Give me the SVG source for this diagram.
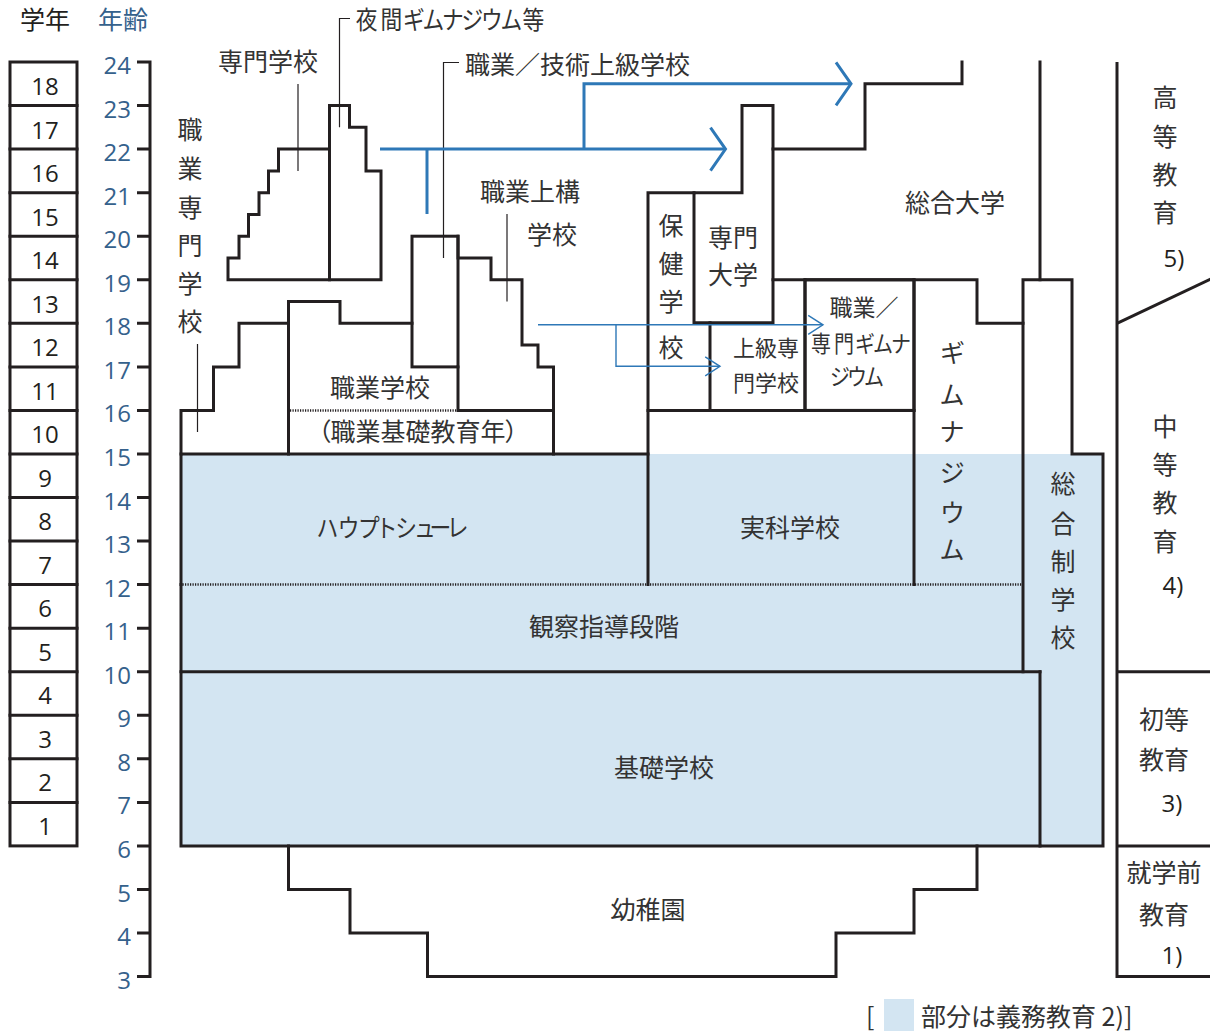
<svg xmlns="http://www.w3.org/2000/svg" width="1210" height="1031" viewBox="0 0 1210 1031">
<defs>
<style>
.ln{fill:none;stroke:#231f20;stroke-width:3;stroke-linejoin:miter;stroke-linecap:square}
.ld{fill:none;stroke:#231f20;stroke-width:1.2}
.dot{fill:none;stroke:#231f20;stroke-width:2.5;stroke-dasharray:1.2 1.3}
.jp{font-family:"Noto Sans CJK JP",sans-serif;font-size:25px;fill:#333;font-feature-settings:"palt";text-anchor:middle}
.js{font-family:"Noto Sans CJK JP",sans-serif;font-size:22px;fill:#333;font-feature-settings:"palt";text-anchor:middle}
.kp{font-feature-settings:normal}
.st{text-anchor:start}
.num{font-family:"Open Sans","Noto Sans CJK JP",sans-serif;font-size:24px;fill:#231f20;text-anchor:middle}
.age{font-family:"Open Sans",sans-serif;font-size:24px;fill:#35618c;text-anchor:end}
.ab{fill:none;stroke:#2e78b7;stroke-width:3}
.at{fill:none;stroke:#2e78b7;stroke-width:1.4}
.fill{fill:#d3e5f2}
</style>
<marker id="chevB" markerUnits="userSpaceOnUse" viewBox="0 0 18 46" markerWidth="18" markerHeight="46" refX="16.5" refY="23" orient="auto" overflow="visible">
<path d="M1.5,1.5L16.5,23L1.5,44.5" fill="none" stroke="#2e78b7" stroke-width="3"/>
</marker>
<marker id="chevT" markerUnits="userSpaceOnUse" viewBox="0 0 17 22" markerWidth="17" markerHeight="22" refX="15.5" refY="11" orient="auto" overflow="visible">
<path d="M0.7,1.5L15.5,11L0.7,20.5" fill="none" stroke="#2e78b7" stroke-width="1.4"/>
</marker>
</defs>
<rect width="1210" height="1031" fill="#fff"/>

<!-- compulsory education fill -->
<rect class="fill" x="181" y="454" width="922" height="392"/>

<!-- headers -->
<g id="headers">
<text class="jp" x="45" y="29" style="fill:#231f20">学年</text>
<text class="jp" x="123" y="29" style="fill:#35618c">年齢</text>
</g>

<!-- grade column -->
<g id="grades">
<rect class="ln" x="10" y="62" width="67" height="783.9"/>
<path class="ln" d="M10,105.6H77M10,149.1H77M10,192.7H77M10,236.2H77M10,279.8H77M10,323.3H77M10,366.9H77M10,410.4H77M10,454H77M10,497.5H77M10,541.1H77M10,584.6H77M10,628.2H77M10,671.7H77M10,715.3H77M10,758.8H77M10,802.4H77"/>
<text class="num" x="45" y="95">18</text>
<text class="num" x="45" y="138.5">17</text>
<text class="num" x="45" y="182">16</text>
<text class="num" x="45" y="225.5">15</text>
<text class="num" x="45" y="269">14</text>
<text class="num" x="45" y="312.5">13</text>
<text class="num" x="45" y="356">12</text>
<text class="num" x="45" y="399.5">11</text>
<text class="num" x="45" y="443">10</text>
<text class="num" x="45" y="486.5">9</text>
<text class="num" x="45" y="530">8</text>
<text class="num" x="45" y="573.5">7</text>
<text class="num" x="45" y="617">6</text>
<text class="num" x="45" y="660.5">5</text>
<text class="num" x="45" y="704">4</text>
<text class="num" x="45" y="747.5">3</text>
<text class="num" x="45" y="791">2</text>
<text class="num" x="45" y="834.5">1</text>
</g>

<!-- age axis -->
<g id="age-axis">
<path class="ln" d="M137,62H150V976.6H137M137,105.6H150M137,149.1H150M137,192.7H150M137,236.2H150M137,279.8H150M137,323.3H150M137,366.9H150M137,410.4H150M137,454H150M137,497.5H150M137,541.1H150M137,584.6H150M137,628.2H150M137,671.7H150M137,715.3H150M137,758.8H150M137,802.4H150M137,845.9H150M137,889.5H150M137,933H150" style="stroke-linecap:butt"/>
<text class="age" x="131" y="74">24</text>
<text class="age" x="131" y="117.6">23</text>
<text class="age" x="131" y="161.1">22</text>
<text class="age" x="131" y="204.7">21</text>
<text class="age" x="131" y="248.2">20</text>
<text class="age" x="131" y="291.8">19</text>
<text class="age" x="131" y="335.3">18</text>
<text class="age" x="131" y="378.9">17</text>
<text class="age" x="131" y="422.4">16</text>
<text class="age" x="131" y="466">15</text>
<text class="age" x="131" y="509.5">14</text>
<text class="age" x="131" y="553.1">13</text>
<text class="age" x="131" y="596.6">12</text>
<text class="age" x="131" y="640.2">11</text>
<text class="age" x="131" y="683.7">10</text>
<text class="age" x="131" y="727.3">9</text>
<text class="age" x="131" y="770.8">8</text>
<text class="age" x="131" y="814.4">7</text>
<text class="age" x="131" y="857.9">6</text>
<text class="age" x="131" y="901.5">5</text>
<text class="age" x="131" y="945">4</text>
<text class="age" x="131" y="988.6">3</text>
</g>

<!-- 専門学校 -->
<g id="fachschule">
<path class="ln" d="M228,279.8V258H239V236.2H248.5V214.4H259V192.7H268.5V170.9H278.5V149.1H329.5V279.8Z"/>
<path class="ld" d="M298,84V171"/>
<text class="jp" x="268" y="71">専門学校</text>
</g>

<!-- 夜間ギムナジウム等 -->
<g id="abendgymnasium">
<path class="ln" d="M329.5,279.8V105.6H349.5V127.3H366V170.9H381V279.8H329.5"/>
<path class="ld" d="M350,18.5H339.5V127.3"/>
<text class="jp kp" transform="scale(0.87,1)" x="421.3 450 475.6 498 520.5 542.9 565.3 587.7 613.2" y="29">夜間ギムナジウム等</text>
</g>

<!-- 職業／技術上級学校 -->
<g id="fachoberschule">
<rect class="ln" x="412" y="236.2" width="46" height="130.7"/>
<path class="ld" d="M459,62.5H443.5V258"/>
<text class="jp st" x="465" y="74">職業／技術上級学校</text>
</g>

<!-- 職業上構学校 -->
<g id="berufsoberschule">
<path class="ln" d="M458,236.2V258H491V279.8H522V345.1H538V366.9H553.5V454M458,366.9V410.4H553.5"/>
<path class="ld" d="M507,214V301.5"/>
<text class="jp" x="530" y="201">職業上構</text>
<text class="jp" x="552" y="244">学校</text>
</g>

<!-- 職業専門学校 -->
<g id="berufsfachschule">
<path class="ln" d="M181,454V410.4H213.5V366.9H239V323.3H288.5"/>
<path class="ld" d="M197.5,344V432"/>
<text class="jp" x="190" y="139">職</text>
<text class="jp" x="190" y="178">業</text>
<text class="jp" x="190" y="217">専</text>
<text class="jp" x="190" y="255">門</text>
<text class="jp" x="190" y="293">学</text>
<text class="jp" x="190" y="331">校</text>
</g>

<!-- 職業学校 -->
<g id="berufsschule">
<path class="ln" d="M288.5,454V301.5H340V323.3H412"/>
<path class="dot" d="M290,410.4H457"/>
<text class="jp" x="380" y="397">職業学校</text>
</g>

<!-- 職業基礎教育年 -->
<g id="berufsgrundbildungsjahr">
<text class="jp" x="418" y="441">（職業基礎教育年）</text>
</g>

<!-- 専門大学 -->
<g id="fachhochschule">
<path class="ln" d="M694,322.8V192.7H742V105.6H773V322.8Z"/>
<text class="jp" x="733" y="247">専門</text>
<text class="jp" x="733" y="284">大学</text>
</g>

<!-- 保健学校 -->
<g id="gesundheitsschule">
<path class="ln" d="M694,192.7H648V410.4H710V322.8"/>
<text class="jp" x="671" y="235">保</text>
<text class="jp" x="671" y="273">健</text>
<text class="jp" x="671" y="311">学</text>
<text class="jp" x="671" y="357">校</text>
</g>

<!-- 上級専門学校 -->
<g id="hoehere-fachschule">
<path class="ln" d="M710,410.4H805V279.8"/>
<text class="js" x="766" y="356">上級専</text>
<text class="js" x="766" y="391">門学校</text>
</g>

<!-- 職業／専門ギムナジウム -->
<g id="fachgymnasium">
<rect class="ln" x="805" y="279.8" width="109" height="130.6"/>
<text class="js" x="864" y="316" style="font-size:23px">職業／</text>
<text class="js kp" transform="scale(0.87,1)" x="943.7 970.1 994.3 1014.9 1035.6" y="352" style="font-size:23px">専門ギムナ</text>
<text class="js kp" transform="scale(0.87,1)" x="965.5 985.1 1004.6" y="385" style="font-size:23px">ジウム</text>
</g>

<!-- 総合大学 -->
<g id="universitaet">
<path class="ln" d="M962,62V83.8H865V149.1H773M773,279.8H977V323.3H1023M1040,62V279.8"/>
<text class="jp" x="955" y="212">総合大学</text>
</g>

<!-- ギムナジウム -->
<g id="gymnasium">
<path class="ln" d="M914,584.6V279.8"/>
<text class="jp" x="952" y="362">ギ</text>
<text class="jp" x="952" y="404">ム</text>
<text class="jp" x="952" y="441">ナ</text>
<text class="jp" x="952" y="482">ジ</text>
<text class="jp" x="952" y="522">ウ</text>
<text class="jp" x="952" y="559">ム</text>
</g>

<!-- 実科学校 -->
<g id="realschule">
<path class="ln" d="M648,584.6V410.4H914"/>
<text class="jp" x="790" y="537">実科学校</text>
</g>

<!-- ハウプトシューレ -->
<g id="hauptschule">
<path class="ln" d="M181,584.6V454H648"/>
<text class="jp kp" transform="scale(0.87,1)" x="376.4 400.6 424.1 444.3 466.7 488.5 506.3 525.9" y="537">ハウプトシューレ</text>
</g>

<!-- 観察指導段階 -->
<g id="orientierungsstufe">
<path class="dot" d="M182.5,584.6H1021.5"/>
<path class="ln" d="M181,584.6V671.7"/>
<text class="jp" x="604" y="636">観察指導段階</text>
</g>

<!-- 総合制学校 -->
<g id="gesamtschule">
<path class="ln" d="M1023,671.7V279.8H1072V454H1103V845.9H1040V671.7"/>
<text class="jp" x="1063" y="493">総</text>
<text class="jp" x="1063" y="533">合</text>
<text class="jp" x="1063" y="571">制</text>
<text class="jp" x="1063" y="609">学</text>
<text class="jp" x="1063" y="647">校</text>
</g>

<!-- 基礎学校 -->
<g id="grundschule">
<path class="ln" d="M181,671.7H1040M181,671.7V845.9H1040"/>
<text class="jp" x="664" y="777">基礎学校</text>
</g>

<!-- 幼稚園 -->
<g id="kindergarten">
<path class="ln" d="M288.5,845.9V889.5H350V933H427.5V976.6H836V933H914V889.5H977V845.9"/>
<text class="jp" x="648" y="919">幼稚園</text>
</g>

<!-- stages column -->
<g id="stages">
<path class="ln" d="M1117,62V976.6H1212M1117,671.7H1212M1117,845.9H1212" style="stroke-linecap:butt"/>
<path class="ln" d="M1117,323.3L1212,278.5" style="stroke-linecap:butt"/>
<text class="jp" x="1165" y="107">高</text>
<text class="jp" x="1165" y="146">等</text>
<text class="jp" x="1165" y="184">教</text>
<text class="jp" x="1165" y="222">育</text>
<text class="num" x="1174" y="267">5)</text>
<text class="jp" x="1165" y="436">中</text>
<text class="jp" x="1165" y="474">等</text>
<text class="jp" x="1165" y="512">教</text>
<text class="jp" x="1165" y="551">育</text>
<text class="num" x="1173" y="594">4)</text>
<text class="jp" x="1164" y="729">初等</text>
<text class="jp" x="1164" y="769">教育</text>
<text class="num" x="1172" y="812">3)</text>
<text class="jp" x="1164" y="882">就学前</text>
<text class="jp" x="1164" y="924">教育</text>
<text class="num" x="1172" y="964">1)</text>
</g>

<!-- connectors -->
<g id="connectors">
<path class="ab" d="M380,149.1H725.5" marker-end="url(#chevB)"/>
<path class="ab" d="M427,149.1V214"/>
<path class="ab" d="M584,149.1V83.8H851" marker-end="url(#chevB)"/>
<path class="at" d="M538,324.8H823" marker-end="url(#chevT)"/>
<path class="at" d="M616,324.8V366.3H720" marker-end="url(#chevT)"/>
</g>

<!-- legend -->
<g id="legend">
<text class="jp st" x="866" y="1026">[</text>
<rect class="fill" x="884" y="999" width="30" height="32"/>
<text class="jp st" x="921" y="1026">部分は義務教育 2)]</text>
</g>
</svg>
